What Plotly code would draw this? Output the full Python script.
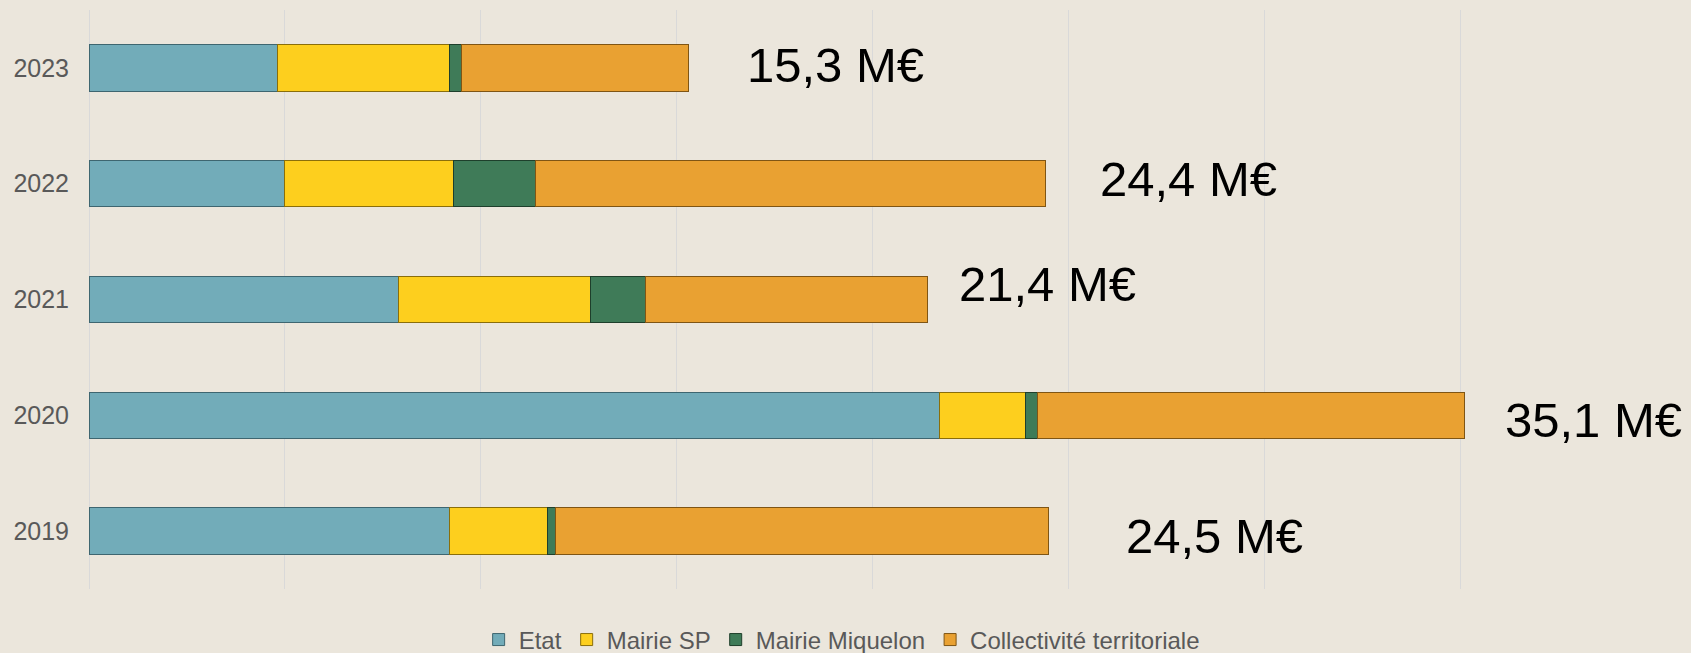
import plotly.graph_objects as go

years = ['2019', '2020', '2021', '2022', '2023']
etat = [9.2, 21.7, 7.9, 5.0, 4.8]
mairie_sp = [2.5, 2.2, 4.9, 4.3, 4.4]
mairie_miquelon = [0.2, 0.3, 1.4, 2.1, 0.3]
collectivite = [12.6, 10.9, 7.2, 13.0, 5.8]
totals = ['24,5 M€', '35,1 M€', '21,4 M€', '24,4 M€', '15,3 M€']

series = [
    ('Etat', etat, '#72ACB9', '#3E6670'),
    ('Mairie SP', mairie_sp, '#FDCF1E', '#8A6E0A'),
    ('Mairie Miquelon', mairie_miquelon, '#3F7B58', '#1E3F2B'),
    ('Collectivité territoriale', collectivite, '#E9A132', '#7F5514'),
]

fig = go.Figure()
for name, vals, col, edge in series:
    fig.add_trace(go.Bar(y=years, x=vals, name=name, orientation='h',
                         marker_color=col, marker_line_color=edge, marker_line_width=1))

# total labels are free text boxes in the original, not quite centred on the bars
# (y given as category index, numeric-looking strings confuse the category axis)
label_x = [26.42, 36.1, 22.15, 25.75, 16.75]
label_y = [-0.043, 0.959, 2.136, 3.043, 4.026]
for lx, ly, txt in zip(label_x, label_y, totals):
    fig.add_annotation(x=lx, y=ly, text=txt, showarrow=False, xanchor='left',
                       font=dict(size=49, color='black', family='Liberation Sans'))

fig.update_layout(
    width=1691, height=653,
    barmode='stack', bargap=0.6,
    paper_bgcolor='#EBE6DC', plot_bgcolor='#EBE6DC',
    margin=dict(l=89, r=34, t=10, b=64, autoexpand=False),
    font=dict(family='Liberation Sans', color='#595959'),
    showlegend=True,
    legend=dict(orientation='h', x=0.48, xanchor='center', y=-0.088, yanchor='middle',
                font=dict(size=24, color='#595959'), bgcolor='rgba(0,0,0,0)',
                traceorder='normal', itemwidth=30),
)
fig.update_xaxes(range=[0, 40.02], dtick=5, showticklabels=False, showgrid=True,
                 gridcolor='#D9D9D9', gridwidth=1, zeroline=True, zerolinecolor='#D9D9D9',
                 zerolinewidth=1, showline=False)
fig.update_yaxes(type='category', range=[-0.5, 4.5], tickfont=dict(size=25, color='#595959'),
                 ticks='', ticklabelstandoff=19, showgrid=False)

fig.write_html("out.html", config={'displayModeBar': False},
               post_script="document.body.style.margin='0';")
